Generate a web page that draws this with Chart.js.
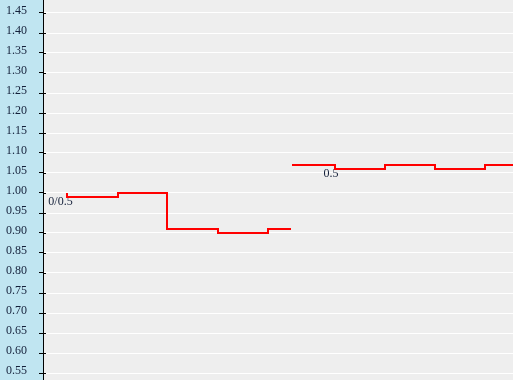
<!DOCTYPE html>
<html>
<head>
<meta charset="utf-8">
<script src="https://cdn.jsdelivr.net/npm/chart.js@4/dist/chart.umd.min.js"></script>
<style>
  html, body { margin: 0; padding: 0; background: #eeeeee; }
  #wrap { width: 513px; height: 380px; }
</style>
</head>
<body>
<div id="wrap"><canvas id="stepChart"></canvas></div>

<script>
  // time (x) of each step and the value that holds up to it
  const timesA = [0, 1.02, 2, 3.02, 4.02, 4.48];
  const valuesA = [1.00, 0.99, 1.00, 0.91, 0.90, 0.91];
  const timesB = [4.5, 5.36, 6.36, 7.36, 8.36, 9.5];
  const valuesB = [1.07, 1.07, 1.06, 1.07, 1.06, 1.07];

  // value ticks on the left axis
  const yTicks = [0.55, 0.60, 0.65, 0.70, 0.75, 0.80, 0.85, 0.90, 0.95, 1.00,
                  1.05, 1.10, 1.15, 1.20, 1.25, 1.30, 1.35, 1.40, 1.45];

  // text notes on the line
  const noteText = ['0/0.5', '0.5'];
  const noteX = [-0.13, 5.28];
  const noteY = [0.9775, 1.04875];

  const toPoints = (xs, ys) => xs.map((x, i) => ({x: x, y: ys[i]}));

  // blue strip behind the axis, grey plot area
  const backgrounds = {
    id: 'backgrounds',
    beforeDraw(chart) {
      const {ctx, chartArea} = chart;
      ctx.save();
      ctx.fillStyle = '#c0e5f1';
      ctx.fillRect(0, 0, chartArea.left, chart.height);
      ctx.fillStyle = '#eeeeee';
      ctx.fillRect(chartArea.left, 0, chart.width - chartArea.left, chart.height);
      ctx.restore();
    }
  };

  // notes go under the line, tick marks poke a little into the plot
  const notes = {
    id: 'notes',
    beforeDatasetsDraw(chart) {
      const {ctx, scales, chartArea} = chart;
      ctx.save();
      ctx.strokeStyle = '#000000';
      ctx.lineWidth = 1;
      ctx.beginPath();
      yTicks.forEach(v => {
        const y = Math.round(scales.y.getPixelForValue(v)) + 0.5;
        ctx.moveTo(chartArea.left, y);
        ctx.lineTo(chartArea.left + 3, y);
      });
      ctx.stroke();
      ctx.font = '12px "Liberation Serif"';
      ctx.fillStyle = '#14203a';
      ctx.textAlign = 'center';
      ctx.textBaseline = 'middle';
      noteText.forEach((t, i) => {
        ctx.fillText(t, scales.x.getPixelForValue(noteX[i]), scales.y.getPixelForValue(noteY[i]));
      });
      ctx.restore();
    }
  };

  const lineStyle = {
    borderColor: '#ff0000',
    borderWidth: 2,
    pointRadius: 0,
    stepped: 'after',
    fill: false
  };

  new Chart('stepChart', {
    type: 'line',
    data: {
      datasets: [
        Object.assign({data: toPoints(timesA, valuesA)}, lineStyle),
        Object.assign({data: toPoints(timesB, valuesB)}, lineStyle)
      ]
    },
    options: {
      responsive: true,
      maintainAspectRatio: false,
      animation: false,
      layout: {padding: 0},
      plugins: {
        legend: {display: false},
        tooltip: {enabled: false}
      },
      scales: {
        x: {
          type: 'linear',
          display: false,
          min: -0.48,
          max: 8.92
        },
        y: {
          min: 0.5325,
          max: 1.4825,
          afterBuildTicks(scale) {
            scale.ticks = yTicks.map(v => ({value: v}));
          },
          afterFit(scale) {
            scale.width = 43;
            scale.paddingTop = 0;
            scale.paddingBottom = 0;
          },
          border: {color: '#000000', width: 1},
          grid: {
            color: '#ffffff',
            tickColor: '#000000',
            tickLength: 4,
            lineWidth: 1
          },
          ticks: {
            padding: 12,
            labelOffset: -2,
            color: '#14203a',
            font: {family: '"Liberation Serif"', size: 12},
            callback: (v) => Number(v).toFixed(2)
          }
        }
      }
    },
    plugins: [backgrounds, notes]
  });
</script>
</body>
</html>
